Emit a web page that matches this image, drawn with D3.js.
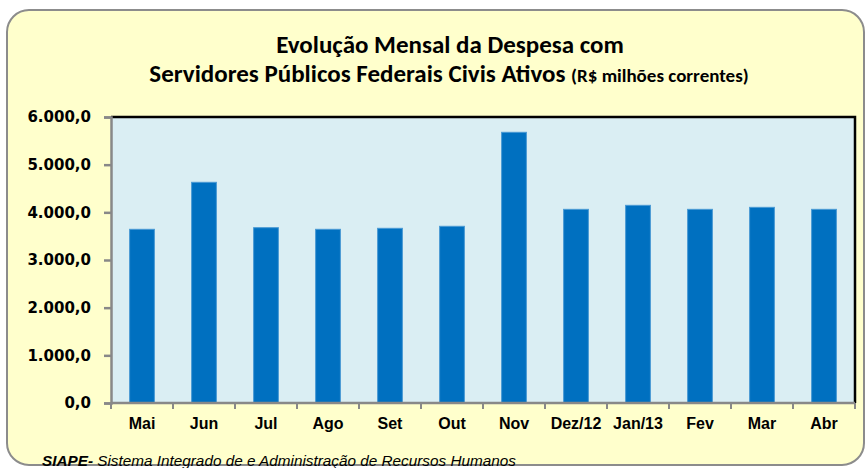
<!DOCTYPE html>
<html><head><meta charset="utf-8">
<script src="https://cdn.jsdelivr.net/npm/d3@7"></script>
<style>body{margin:0;background:#fff;} svg{display:block;}</style>
</head><body>
<svg id="c" width="866" height="468"></svg>
<script>
const categories = ["Mai","Jun","Jul","Ago","Set","Out","Nov","Dez/12","Jan/13","Fev","Mar","Abr"];
const values = [3644, 4630, 3678, 3644, 3665, 3707, 5679, 4063, 4147, 4063, 4105, 4063];
const yTicks = [0,1000,2000,3000,4000,5000,6000];
const titleLine1 = "Evolução Mensal da Despesa com";
const titleLine2 = "Servidores Públicos Federais Civis Ativos";
const titleUnit = "(R$ milhões correntes)";
const footBold = "SIAPE-";
const footText = " Sistema Integrado de e Administração de Recursos Humanos";

const svg = d3.select("#c");
svg.append("rect").attr("x",7).attr("y",10).attr("width",857).attr("height",455)
  .attr("rx",22).attr("ry",22).attr("fill","#FFFFCC").attr("stroke","#8c8c8c").attr("stroke-width",2);

const L=111,R=855,T=117,B=403;
const x = d3.scaleBand().domain(categories).range([L,R]).paddingInner(0.6).paddingOuter(0.3);
const y = d3.scaleLinear().domain([0,6000]).range([B,T]);

svg.append("rect").attr("x",L).attr("y",T).attr("width",R-L).attr("height",B-T).attr("fill","#DAEEF3");

svg.append("g").selectAll("rect").data(values).join("rect")
  .attr("x",(d,i)=>x(categories[i])).attr("width",x.bandwidth())
  .attr("y",d=>y(d)).attr("height",d=>B-y(d))
  .attr("fill","#0070C0").attr("stroke","#4a9ad4").attr("stroke-width",1);

// plot border top/right
svg.append("path").attr("d",`M${L},${T}H${R}V${B}`).attr("fill","none").attr("stroke","#000").attr("stroke-width",2.5);

// y axis
const yAxis = svg.append("g").attr("transform",`translate(${L},0)`)
  .call(d3.axisLeft(y).tickValues(yTicks).tickSize(7).tickPadding(13)
  .tickFormat(d=>d3.format(",.1f")(d).replace(/,/g,"#").replace(".",",").replace(/#/g,".")));
yAxis.select(".domain").attr("stroke","#888").attr("stroke-width",2.5);
yAxis.selectAll(".tick line").attr("stroke","#888").attr("stroke-width",2.5);
yAxis.selectAll("text").attr("font-family","'DejaVu Sans', Verdana, sans-serif").attr("font-weight","bold").attr("font-size","15px").attr("fill","#000");

// x axis
const xAxisG = svg.append("g").attr("transform",`translate(0,${B})`);
xAxisG.append("line").attr("x1",L).attr("x2",R).attr("stroke","#888").attr("stroke-width",2.5);
const bounds = d3.range(categories.length+1).map(i=>L+i*(R-L)/categories.length);
xAxisG.selectAll("line.tk").data(bounds).join("line").attr("class","tk")
  .attr("x1",d=>d).attr("x2",d=>d).attr("y1",0).attr("y2",6).attr("stroke","#888").attr("stroke-width",2);
xAxisG.selectAll("text").data(categories).join("text")
  .attr("x",d=>x(d)+x.bandwidth()/2).attr("y",26).attr("text-anchor","middle")
  .attr("font-family","Liberation Sans, Arial, sans-serif").attr("font-weight","bold").attr("font-size","16px").text(d=>d);

// title
const tf = "Carlito, Lato, 'Open Sans', sans-serif";
svg.append("text").attr("x",450).attr("y",53).attr("text-anchor","middle")
  .attr("font-family",tf).attr("font-weight","bold").attr("font-size","25px").text(titleLine1);
const t2 = svg.append("text").attr("x",449).attr("y",82).attr("text-anchor","middle")
  .attr("font-family",tf).attr("font-weight","bold").attr("font-size","25px");
t2.append("tspan").text(titleLine2+" ");
t2.append("tspan").attr("font-size","19px").text(titleUnit);

// footnote
const ft = svg.append("text").attr("x",42).attr("y",466)
  .attr("font-family","Liberation Sans, Arial, sans-serif").attr("font-style","italic").attr("font-size","15.3px");
ft.append("tspan").attr("font-weight","bold").text(footBold);
ft.append("tspan").text(footText);
</script>
</body></html>
